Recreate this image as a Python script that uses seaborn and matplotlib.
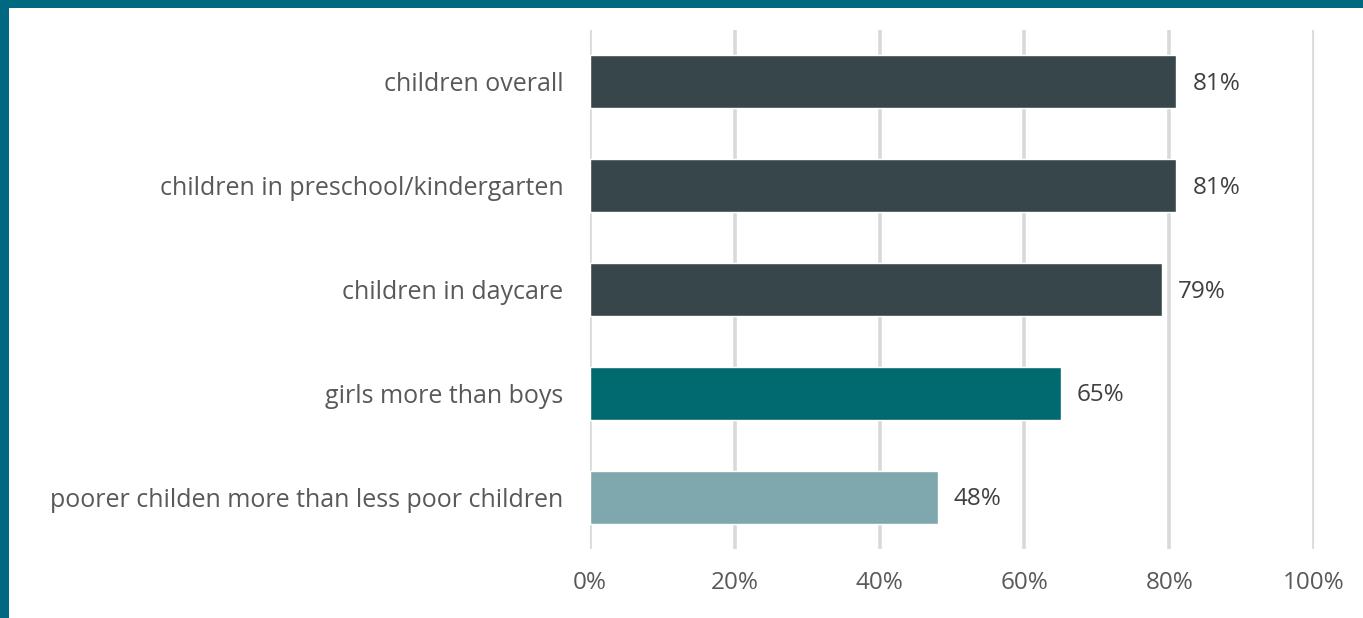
import matplotlib
matplotlib.use("Agg")
import matplotlib.pyplot as plt
import matplotlib.patches as mpatches
import seaborn as sns
import pandas as pd

categories = [
    "children overall",
    "children in preschool/kindergarten",
    "children in daycare",
    "girls more than boys",
    "poorer childen more than less poor children",
]
values = [81, 81, 79, 65, 48]
bar_colors = ["#37464b", "#37464b", "#37464b", "#006a70", "#7ea7ae"]
x_ticks = [0, 20, 40, 60, 80, 100]
x_tick_labels = ["0%", "20%", "40%", "60%", "80%", "100%"]

sns.set_theme(style="white")
plt.rcParams["font.family"] = ["Open Sans", "DejaVu Sans"]

text_color = "#595959"
W, H = 1363, 618
fig = plt.figure(figsize=(W / 100, H / 100), dpi=100)
fig.patch.set_facecolor("white")

# teal frame along the top and left edges
frame = "#006880"
fig.add_artist(mpatches.Rectangle((0, 1 - 8 / H), 1, 8 / H, transform=fig.transFigure,
                                  color=frame, lw=0, zorder=10))
fig.add_artist(mpatches.Rectangle((0, 0), 9 / W, 1, transform=fig.transFigure,
                                  color=frame, lw=0, zorder=10))

left, right = 590 / W, 1314 / W
top, bottom = 1 - 30 / H, 1 - 549 / H
ax = fig.add_axes([left, bottom, right - left, top - bottom])

df = pd.DataFrame({"category": categories, "value": values})
sns.barplot(data=df, x="value", y="category", hue="category", palette=bar_colors,
            legend=False, width=0.51, ax=ax, zorder=3, saturation=1)

ax.set_xlim(0, 100)
ax.set_ylim(len(categories) - 0.5, -0.5)
ax.set_xticks(x_ticks)
ax.set_xticklabels(x_tick_labels)
ax.set_xlabel("")
ax.set_ylabel("")
for x in x_ticks:
    ax.axvline(x, color="#d9d9d9", lw=2.6, zorder=1)
for s in ax.spines.values():
    s.set_visible(False)
fs = 18
ax.tick_params(axis="x", length=0, pad=16, labelsize=fs - 0.5, labelcolor=text_color)
ax.tick_params(axis="y", length=0, pad=19, labelsize=fs, labelcolor=text_color)

for i, v in enumerate(values):
    ax.annotate(f"{v}%", xy=(v, i), xytext=(16, -2), textcoords="offset pixels",
                ha="left", va="center", fontsize=fs - 0.5, color="#404040")

fig.savefig("out.png", dpi=100, facecolor="white")
